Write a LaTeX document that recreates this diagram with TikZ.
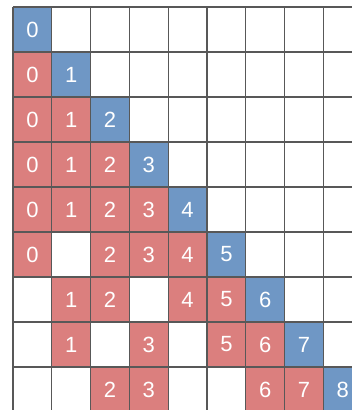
\documentclass[tikz,border=0pt]{standalone}
\usepackage{fontspec}
\setmainfont{Liberation Sans}
\definecolor{cellblue}{RGB}{111,151,197}
\definecolor{cellred}{RGB}{219,127,126}
\definecolor{gridgray}{RGB}{88,88,88}
\tikzset{
  cell/.style={minimum width=38.8pt, minimum height=45pt, inner sep=0pt,
    text=white, font=\fontsize{22}{22}\selectfont},
  newest/.style={cell, fill=cellblue},
  kept/.style={cell, fill=cellred}
}
\begin{document}
\begin{tikzpicture}[x=38.8pt, y=-45pt]
  \useasboundingbox (-0.335,-0.156) rectangle (8.737,8.956);
  \clip (-0.335,-0.156) rectangle (8.737,8.956);
  % diagonal
  \foreach \k in {0,...,8}
    \node[newest] (c\k\k) at (\k+0.5,\k+0.5) {\k};
  % earlier ones still kept
  \foreach \r/\c in {1/0, 2/0, 2/1, 3/0, 3/1, 3/2, 4/0, 4/1, 4/2, 4/3,
      5/0, 5/2, 5/3, 5/4, 6/1, 6/2, 6/4, 6/5, 7/1, 7/3, 7/5, 7/6,
      8/2, 8/3, 8/6, 8/7}
    \node[kept] (c\r\c) at (\c+0.5,\r+0.5) {\c};
  % grid
  \foreach \i in {0,...,9} {
    \draw[gridgray, line width=1.3pt] (\i,0) -- (\i,9);
    \draw[gridgray, line width=1.3pt] (0,\i) -- (9,\i);
  }
\end{tikzpicture}
\end{document}
